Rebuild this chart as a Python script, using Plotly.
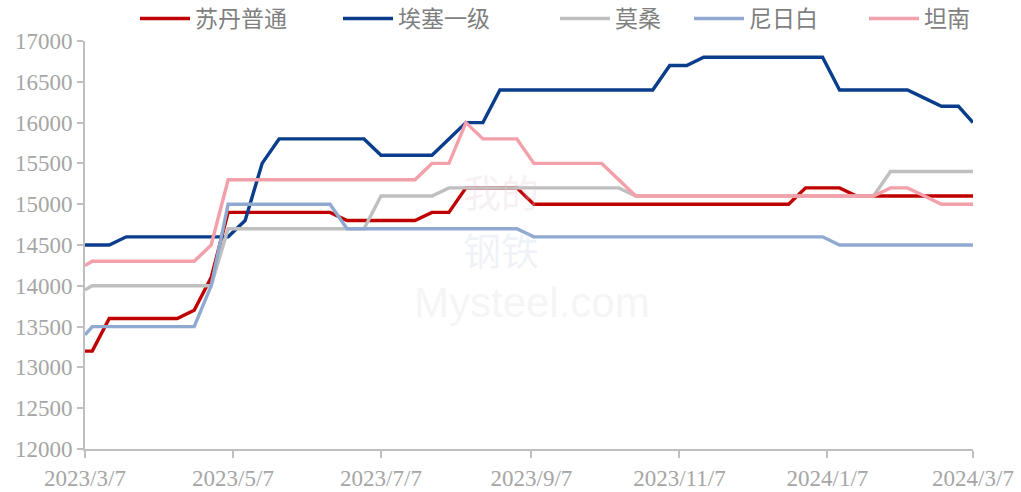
import plotly.graph_objects as go

dates = ["2023-03-07",
         "2023-03-10", "2023-03-17", "2023-03-24", "2023-03-31", "2023-04-07", "2023-04-14", "2023-04-21", "2023-04-28",
         "2023-05-05", "2023-05-12", "2023-05-19", "2023-05-26", "2023-06-02", "2023-06-09", "2023-06-16", "2023-06-23",
         "2023-06-30", "2023-07-07", "2023-07-14", "2023-07-21", "2023-07-28", "2023-08-04", "2023-08-11", "2023-08-18",
         "2023-08-25", "2023-09-01", "2023-09-08", "2023-09-15", "2023-09-22", "2023-09-29", "2023-10-06", "2023-10-13",
         "2023-10-20", "2023-10-27", "2023-11-03", "2023-11-10", "2023-11-17", "2023-11-24", "2023-12-01", "2023-12-08",
         "2023-12-15", "2023-12-22", "2023-12-29", "2024-01-05", "2024-01-12", "2024-01-19", "2024-01-26", "2024-02-02",
         "2024-02-09", "2024-02-16", "2024-02-23", "2024-03-01",
         "2024-03-07"]

sudan = [13200,
         13200, 13600, 13600, 13600, 13600, 13600, 13700, 14100,
         14900, 14900, 14900, 14900, 14900, 14900, 14900, 14800,
         14800, 14800, 14800, 14800, 14900, 14900, 15200, 15200,
         15200, 15200, 15000, 15000, 15000, 15000, 15000, 15000,
         15000, 15000, 15000, 15000, 15000, 15000, 15000, 15000,
         15000, 15000, 15200, 15200, 15200, 15100, 15100, 15100,
         15100, 15100, 15100, 15100,
         15100]

ethiopia = [14500,
            14500, 14500, 14600, 14600, 14600, 14600, 14600, 14600,
            14600, 14800, 15500, 15800, 15800, 15800, 15800, 15800,
            15800, 15600, 15600, 15600, 15600, 15800, 16000, 16000,
            16400, 16400, 16400, 16400, 16400, 16400, 16400, 16400,
            16400, 16400, 16700, 16700, 16800, 16800, 16800, 16800,
            16800, 16800, 16800, 16800, 16400, 16400, 16400, 16400,
            16400, 16300, 16200, 16200,
            16000]

mozambique = [13950,
              14000, 14000, 14000, 14000, 14000, 14000, 14000, 14000,
              14700, 14700, 14700, 14700, 14700, 14700, 14700, 14700,
              14700, 15100, 15100, 15100, 15100, 15200, 15200, 15200,
              15200, 15200, 15200, 15200, 15200, 15200, 15200, 15200,
              15100, 15100, 15100, 15100, 15100, 15100, 15100, 15100,
              15100, 15100, 15100, 15100, 15100, 15100, 15100, 15400,
              15400, 15400, 15400, 15400,
              15400]

nigeria = [13400,
           13500, 13500, 13500, 13500, 13500, 13500, 13500, 14000,
           15000, 15000, 15000, 15000, 15000, 15000, 15000, 14700,
           14700, 14700, 14700, 14700, 14700, 14700, 14700, 14700,
           14700, 14700, 14600, 14600, 14600, 14600, 14600, 14600,
           14600, 14600, 14600, 14600, 14600, 14600, 14600, 14600,
           14600, 14600, 14600, 14600, 14500, 14500, 14500, 14500,
           14500, 14500, 14500, 14500,
           14500]

tanzania = [14250,
            14300, 14300, 14300, 14300, 14300, 14300, 14300, 14500,
            15300, 15300, 15300, 15300, 15300, 15300, 15300, 15300,
            15300, 15300, 15300, 15300, 15500, 15500, 16000, 15800,
            15800, 15800, 15500, 15500, 15500, 15500, 15500, 15300,
            15100, 15100, 15100, 15100, 15100, 15100, 15100, 15100,
            15100, 15100, 15100, 15100, 15100, 15100, 15100, 15200,
            15200, 15100, 15000, 15000,
            15000]

series_names = ["苏丹普通", "埃塞一级", "莫桑", "尼日白", "坦南"]
series_values = [sudan, ethiopia, mozambique, nigeria, tanzania]
series_colors = ["#C00000", "#0A3D8C", "#BFBFBF", "#8FA9D0", "#F3A0AA"]

tick_dates = ["2023-03-07", "2023-05-07", "2023-07-07", "2023-09-07", "2023-11-07", "2024-01-07", "2024-03-07"]
tick_labels = ["2023/3/7", "2023/5/7", "2023/7/7", "2023/9/7", "2023/11/7", "2024/1/7", "2024/3/7"]
y_ticks = [12000, 12500, 13000, 13500, 14000, 14500, 15000, 15500, 16000, 16500, 17000]

# legend entry left positions (pixels) in the 1021-wide figure
legend_px = [135, 338, 555, 689, 864]
L, R, T, B = 85, 48, 41, 43
plot_w = 1021 - L - R
plot_h = 492 - T - B

fig = go.Figure()
legend_font = dict(family="Noto Sans CJK SC", size=23, color="#7F7F7F")
for i, (name, vals, col) in enumerate(zip(series_names, series_values, series_colors)):
    lg = "legend" if i == 0 else f"legend{i + 1}"
    fig.add_trace(go.Scatter(x=dates, y=vals, name=name, mode="lines", legend=lg,
                             line=dict(color=col, width=3.4)))
    fig.update_layout({lg: dict(orientation="h", x=(legend_px[i] - L) / plot_w, xanchor="left",
                                y=1.055, yanchor="middle", font=legend_font, itemwidth=50,
                                bgcolor="rgba(0,0,0,0)")})

# faint watermark
fig.add_annotation(x=(501 - L) / plot_w, y=(449 - 190) / plot_h, xref="paper", yref="paper", text="我的",
                   showarrow=False, font=dict(family="Noto Sans CJK SC", size=38, color="rgba(230,205,210,0.28)"))
fig.add_annotation(x=(501 - L) / plot_w, y=(449 - 248) / plot_h, xref="paper", yref="paper", text="钢铁",
                   showarrow=False, font=dict(family="Noto Sans CJK SC", size=38, color="rgba(200,210,230,0.28)"))
fig.add_annotation(x=(532 - L) / plot_w, y=(449 - 302) / plot_h, xref="paper", yref="paper", text="Mysteel.com",
                   showarrow=False, font=dict(family="Liberation Sans, Arial", size=42, color="rgba(220,220,220,0.28)"))

axis_color = "#BFBFBF"
tick_font = dict(family="Liberation Serif, Times New Roman, serif", size=23, color="#A6A6A6")

fig.update_layout(
    width=1021, height=492,
    margin=dict(l=L, r=R, t=T, b=B, autoexpand=False),
    paper_bgcolor="white", plot_bgcolor="white",
    showlegend=True,
    xaxis=dict(type="date", range=["2023-03-07", "2024-03-07"], tickvals=tick_dates, ticktext=tick_labels,
               showgrid=False, zeroline=False, showline=True, linecolor=axis_color, linewidth=2,
               ticks="outside", ticklen=7, tickwidth=1.5, tickcolor=axis_color, tickfont=tick_font,
               automargin=False),
    yaxis=dict(range=[12000, 17000], tickvals=y_ticks, ticktext=[str(v) for v in y_ticks],
               showgrid=False, zeroline=False,
               showline=True, linecolor=axis_color, linewidth=2,
               ticks="outside", ticklen=6, tickwidth=1.5, tickcolor=axis_color, tickfont=tick_font,
               automargin=False),
)

fig.write_html("out.html", config={"displayModeBar": False},
               post_script="document.body.style.margin='0';document.body.style.overflow='hidden';")
